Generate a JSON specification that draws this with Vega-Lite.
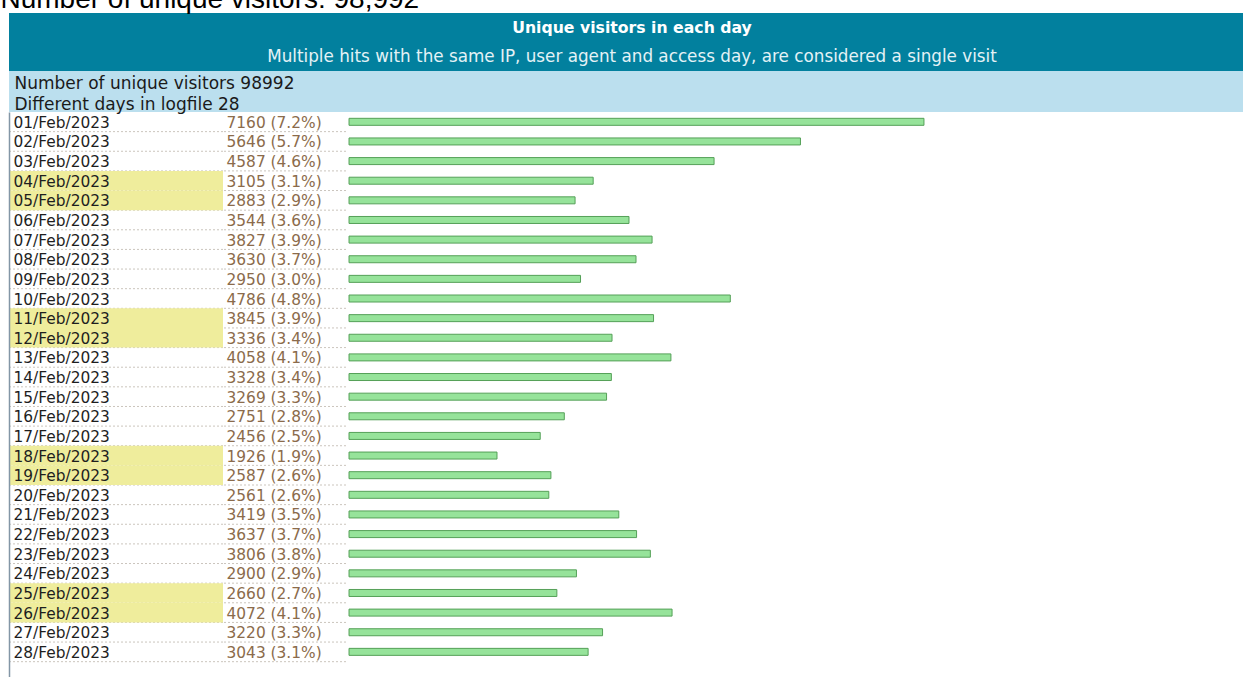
{
  "$schema": "https://vega.github.io/schema/vega-lite/v6.json",
  "padding": {"left": 0, "top": -14, "right": 0, "bottom": 0},
  "background": "white",
  "title": {"text": "Number of unique visitors: 98,992", "anchor": "start", "font": "Liberation Sans", "fontSize": 28, "fontWeight": "normal", "color": "#000000", "dx": -8, "offset": -1},
  "config": {"view": {"stroke": null}, "concat": {"spacing": 0}},
  "datasets": {
    "days": [
      {"date": "01/Feb/2023", "visitors": 7160, "pct": 7.2, "weekend": false},
      {"date": "02/Feb/2023", "visitors": 5646, "pct": 5.7, "weekend": false},
      {"date": "03/Feb/2023", "visitors": 4587, "pct": 4.6, "weekend": false},
      {"date": "04/Feb/2023", "visitors": 3105, "pct": 3.1, "weekend": true},
      {"date": "05/Feb/2023", "visitors": 2883, "pct": 2.9, "weekend": true},
      {"date": "06/Feb/2023", "visitors": 3544, "pct": 3.6, "weekend": false},
      {"date": "07/Feb/2023", "visitors": 3827, "pct": 3.9, "weekend": false},
      {"date": "08/Feb/2023", "visitors": 3630, "pct": 3.7, "weekend": false},
      {"date": "09/Feb/2023", "visitors": 2950, "pct": 3.0, "weekend": false},
      {"date": "10/Feb/2023", "visitors": 4786, "pct": 4.8, "weekend": false},
      {"date": "11/Feb/2023", "visitors": 3845, "pct": 3.9, "weekend": true},
      {"date": "12/Feb/2023", "visitors": 3336, "pct": 3.4, "weekend": true},
      {"date": "13/Feb/2023", "visitors": 4058, "pct": 4.1, "weekend": false},
      {"date": "14/Feb/2023", "visitors": 3328, "pct": 3.4, "weekend": false},
      {"date": "15/Feb/2023", "visitors": 3269, "pct": 3.3, "weekend": false},
      {"date": "16/Feb/2023", "visitors": 2751, "pct": 2.8, "weekend": false},
      {"date": "17/Feb/2023", "visitors": 2456, "pct": 2.5, "weekend": false},
      {"date": "18/Feb/2023", "visitors": 1926, "pct": 1.9, "weekend": true},
      {"date": "19/Feb/2023", "visitors": 2587, "pct": 2.6, "weekend": true},
      {"date": "20/Feb/2023", "visitors": 2561, "pct": 2.6, "weekend": false},
      {"date": "21/Feb/2023", "visitors": 3419, "pct": 3.5, "weekend": false},
      {"date": "22/Feb/2023", "visitors": 3637, "pct": 3.7, "weekend": false},
      {"date": "23/Feb/2023", "visitors": 3806, "pct": 3.8, "weekend": false},
      {"date": "24/Feb/2023", "visitors": 2900, "pct": 2.9, "weekend": false},
      {"date": "25/Feb/2023", "visitors": 2660, "pct": 2.7, "weekend": true},
      {"date": "26/Feb/2023", "visitors": 4072, "pct": 4.1, "weekend": true},
      {"date": "27/Feb/2023", "visitors": 3220, "pct": 3.3, "weekend": false},
      {"date": "28/Feb/2023", "visitors": 3043, "pct": 3.1, "weekend": false}
    ]
  },
  "spacing": 0,
  "bounds": "flush",
  "vconcat": [
    {
      "width": 1246, "height": 29,
      "view": {"fill": "#02809e", "stroke": null},
      "data": {"values": [{"t": "Unique visitors in each day"}]},
      "mark": {"type": "text", "font": "DejaVu Sans", "fontSize": 15.7, "fontWeight": "bold", "color": "#ffffff"},
      "encoding": {"text": {"field": "t"}}
    },
    {
      "width": 1246, "height": 29,
      "view": {"fill": "#02809e", "stroke": null},
      "data": {"values": [{"t": "Multiple hits with the same IP, user agent and access day, are considered a single visit"}]},
      "mark": {"type": "text", "font": "DejaVu Sans", "fontSize": 16.8, "color": "#e4f2f6"},
      "encoding": {"text": {"field": "t"}}
    },
    {
      "width": 1246, "height": 41,
      "view": {"fill": "#bbdfee", "stroke": null},
      "data": {"values": [{"line": "Number of unique visitors 98992"}, {"line": "Different days in logfile 28"}]},
      "mark": {"type": "rect", "color": "#bbdfee"},
      "encoding": {
        "y": {"field": "line", "type": "nominal", "sort": null,
              "scale": {"paddingInner": 0, "paddingOuter": 0},
              "axis": {"title": null, "orient": "left", "domain": false, "ticks": false, "tickSize": 0, "grid": false,
                       "labelAlign": "left", "labelPadding": -5, "labelOffset": 3, "labelFont": "DejaVu Sans", "labelFontSize": 17,
                       "labelColor": "#1a1a1a", "labelLimit": 2000, "zindex": 1}}
      }
    },
    {
      "spacing": 0,
      "bounds": "flush",
      "hconcat": [
        {
          "width": 214, "height": 565,
          "data": {"name": "days"},
          "encoding": {
            "y": {"field": "date", "type": "nominal", "sort": null,
                  "scale": {"paddingInner": 0, "paddingOuter": 0.39, "align": 0},
                  "axis": {"title": null, "orient": "left", "domain": true, "domainColor": "#8396a6", "domainWidth": 1.5,
                           "ticks": false, "tickSize": 0, "grid": false,
                           "labelAlign": "left", "labelPadding": -4, "labelOffset": 1, "labelFont": "DejaVu Sans", "labelFontSize": 15.4,
                           "labelColor": "#1e1e1e", "labelLimit": 2000, "zindex": 1}}
          },
          "layer": [
            {
              "mark": {"type": "rule", "color": "#cbc5bd", "strokeDash": [2, 2], "strokeWidth": 1},
              "encoding": {"y": {"field": "date", "type": "nominal", "sort": null, "bandPosition": 1,
                  "scale": {"paddingInner": 0, "paddingOuter": 0.39, "align": 0},
                  "axis": {"title": null, "orient": "left", "domain": true, "domainColor": "#8396a6", "domainWidth": 1.5,
                           "ticks": false, "tickSize": 0, "grid": false,
                           "labelAlign": "left", "labelPadding": -4, "labelOffset": 1, "labelFont": "DejaVu Sans", "labelFontSize": 15.4,
                           "labelColor": "#1e1e1e", "labelLimit": 2000, "zindex": 1}}}
            },
            {
              "mark": {"type": "rect", "color": "#efed9c"},
              "encoding": {
                "opacity": {"condition": {"test": "datum.weekend", "value": 1}, "value": 0}
              }
            }
          ]
        },
        {
          "width": 123, "height": 565,
          "data": {"name": "days"},
          "transform": [{"calculate": "datum.visitors + ' (' + format(datum.pct, '.1f') + '%)'", "as": "label"}],
          "mark": {"type": "rule", "color": "#cbc5bd", "strokeDash": [2, 2], "strokeWidth": 1},
          "encoding": {
            "y": {"field": "label", "type": "nominal", "sort": null, "bandPosition": 1,
                  "scale": {"paddingInner": 0, "paddingOuter": 0.39, "align": 0},
                  "axis": {"title": null, "orient": "left", "domain": false, "ticks": false, "tickSize": 0, "grid": false,
                           "labelAlign": "left", "labelPadding": -3, "labelOffset": 1, "labelFont": "DejaVu Sans", "labelFontSize": 15.4,
                           "labelColor": "#8b6b4b", "labelLimit": 2000, "zindex": 1}}
          }
        },
        {
          "width": 909, "height": 565,
          "data": {"name": "days"},
          "mark": {"type": "bar", "size": 7, "fill": "#96e39a", "stroke": "#55a058", "strokeWidth": 1},
          "encoding": {
            "y": {"field": "date", "type": "nominal", "sort": null,
                  "scale": {"paddingInner": 0, "paddingOuter": 0.39, "align": 0}, "axis": null},
            "x": {"field": "visitors", "type": "quantitative", "scale": {"domain": [75, 11218], "zero": false}, "axis": null},
            "x2": {"datum": 112}
          }
        }
      ]
    }
  ]
}
